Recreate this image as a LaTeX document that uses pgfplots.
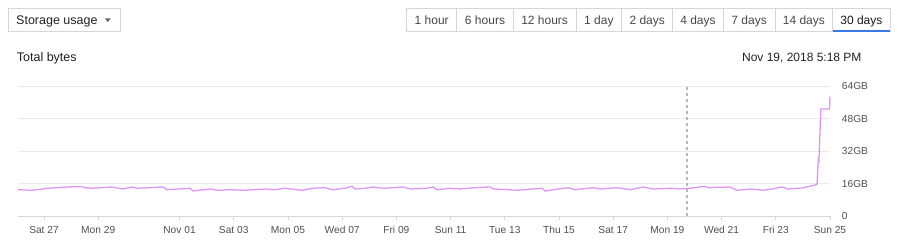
\documentclass[border=0pt]{standalone}
\usepackage{pgfplots}
\pgfplotsset{compat=1.18}
\usepackage{fontspec}
\setmainfont{Liberation Sans}
\definecolor{linec}{RGB}{222,150,242}
\definecolor{gridc}{RGB}{234,234,234}
\definecolor{basec}{RGB}{215,215,215}
\definecolor{tickc}{RGB}{80,80,80}
\definecolor{boxc}{RGB}{214,214,214}
\definecolor{txtc}{RGB}{34,34,34}
\definecolor{bluec}{RGB}{59,120,231}
\begin{document}
\begin{tikzpicture}
\begin{scope}[x=1bp,y=-1bp]
\path[use as bounding box] (0,0) rectangle (898,240);
% dropdown
\draw[boxc, line width=0.8bp] (8.3,8.3) rectangle (120.7,31.7);
\node[anchor=west, inner sep=0pt, font=\fontsize{12.5bp}{14bp}\selectfont, text=txtc] at (16,21.2) {Storage usage};
\fill[black!60] (104.8,18.4) -- (110.8,18.4) -- (107.8,22) -- cycle;
% buttons
\draw[boxc, line width=0.8bp] (406.7,8.3) rectangle (890,31.7);
\foreach \xx in {456.7,513.3,576,621.7,672.7,723.3,775,832.7}{\draw[boxc, line width=0.8bp] (\xx,8.3) -- (\xx,31.7);}
\foreach \a/\b/\t in {406.7/456.7/1 hour,456.7/513.3/6 hours,513.3/576/12 hours,576/621.7/1 day,621.7/672.7/2 days,672.7/723.3/4 days,723.3/775/7 days,775/832.7/14 days}{
  \node[inner sep=0pt, font=\fontsize{12bp}{14bp}\selectfont, text=black!72, text height=8.6bp, text depth=2.5bp] at ({(\a+\b)/2},21.2) {\t};}
\node[inner sep=0pt, font=\fontsize{12bp}{14bp}\selectfont, text=black!90, text height=8.6bp, text depth=2.5bp] at (861.35,21.2) {30 days};
\draw[bluec, line width=1.8bp] (832.7,30.8) -- (890,30.8);
% header texts
\node[anchor=west, inner sep=0pt, font=\fontsize{12.5bp}{14bp}\selectfont, text=txtc] at (16.7,58) {Total bytes};
\node[anchor=east, inner sep=0pt, font=\fontsize{12bp}{14bp}\selectfont, text=txtc] at (861.7,58) {Nov 19, 2018 5:18 PM};
\end{scope}
\begin{axis}[
  at={(18bp,-216bp)}, anchor=south west,
  scale only axis, width=812bp, height=130bp,
  xmin=-0.96, xmax=29, ymin=0, ymax=64,
  axis line style={draw=none},
  /pgf/number format/assume math mode=true,
  xtick={0,2,5,7,9,11,13,15,17,19,21,23,25,27,29},
  xticklabels={Sat 27,Mon 29,Nov 01,Sat 03,Mon 05,Wed 07,Fri 09,Sun 11,Tue 13,Thu 15,Sat 17,Mon 19,Wed 21,Fri 23,Sun 25},
  xtick pos=bottom, tick align=outside, major tick length=4bp,
  xtick style={basec, line width=0.8bp},
  x tick label style={font=\fontsize{10.2bp}{12bp}\selectfont, text=tickc, inner sep=0pt, anchor=north, text height=7.4bp, text depth=0pt},
  xticklabel shift=5.5bp,
  ytick={0,16,32,48,64},
  yticklabels={0,16GB,32GB,48GB,64GB},
  yticklabel pos=right,
  ytick style={draw=none},
  y tick label style={font=\fontsize{10.2bp}{12bp}\selectfont, text=tickc, inner sep=0pt, anchor=west},
  yticklabel shift=7.7bp,
  ymajorgrids, grid style={gridc, line width=0.9bp},
  clip=false,
]
\draw[basec, line width=0.9bp] (rel axis cs:0,0) -- (rel axis cs:1,0);
\addplot[black!28, line width=1.2bp, dash pattern=on 3bp off 3bp] coordinates {(23.72,0) (23.72,64)};
\addplot[linec, line width=1.3bp, line join=round] coordinates {
(-0.96,12.96)(-0.44,12.66)(0.15,13.65)(0.89,14.29)(1.40,14.53)(1.48,14.0)(1.77,13.65)
(2.51,14.29)(2.88,13.30)(3.28,14.29)(3.43,13.65)(3.91,13.94)(4.39,14.29)(4.54,12.96)
(5.39,13.65)(5.50,12.32)(6.13,13.30)(6.42,12.66)(6.86,12.96)(7.42,12.66)(8.15,13.30)
(8.52,12.96)(8.89,13.65)(9.52,12.66)(9.89,13.65)(10.37,13.94)(10.63,12.96)(11.11,13.65)
(11.37,14.63)(11.48,13.30)(11.85,13.65)(12.14,14.29)(12.51,13.65)(12.88,13.94)(13.25,14.29)
(13.51,13.30)(14.13,13.65)(14.35,14.29)(14.50,12.96)(14.98,13.65)(15.35,13.30)(15.90,13.94)
(16.46,14.29)(16.57,13.30)(17.12,12.96)(17.49,12.66)(18.01,13.30)(18.38,13.65)(18.49,12.32)
(18.97,13.30)(19.34,13.94)(19.59,12.96)(20.26,13.94)(20.52,13.30)(21.14,13.94)(21.62,12.96)
(22.10,14.29)(22.47,13.30)(23.10,13.65)(23.47,13.30)(23.84,13.65)(24.39,14.63)(24.50,13.94)
(25.31,14.29)(25.57,12.66)(26.13,13.30)(26.53,12.66)(26.86,13.30)(27.23,14.29)(27.45,13.30)
(27.97,13.8)(28.45,15.27)(28.52,15.6)(28.57,28.5)(28.59,26.6)(28.66,52.7)(28.98,52.7)(29.00,58.8)
};
\end{axis}
\end{tikzpicture}
\end{document}
